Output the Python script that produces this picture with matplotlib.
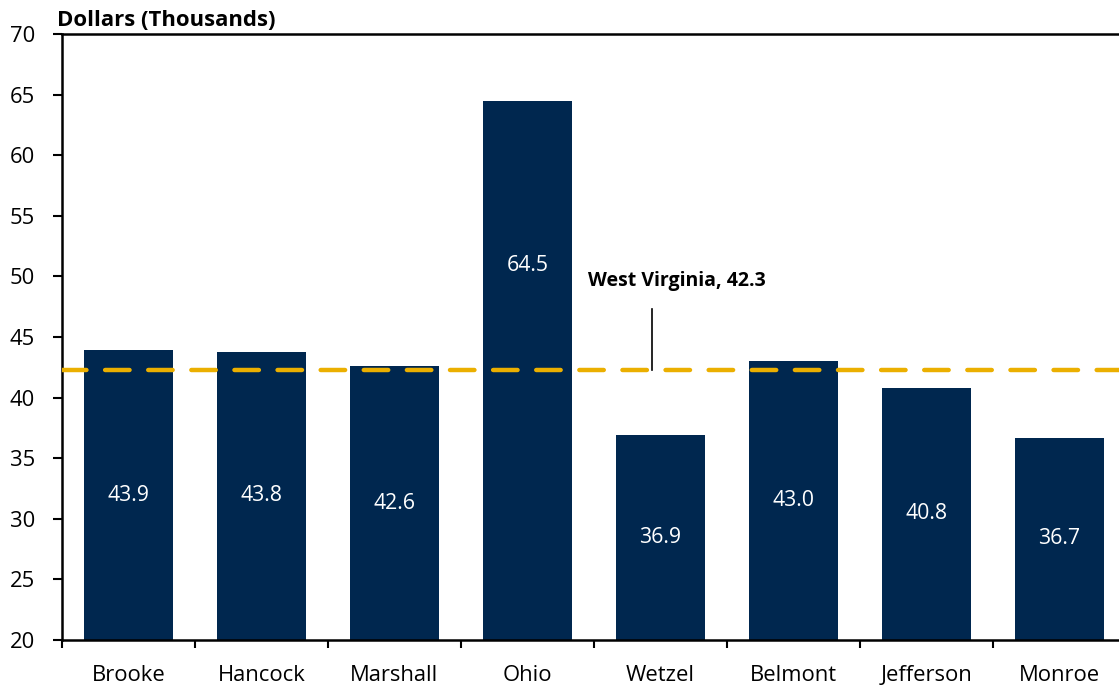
import numpy as np
import matplotlib.pyplot as plt

plt.rcParams['font.family'] = ['Open Sans', 'DejaVu Sans']

counties = ['Brooke', 'Hancock', 'Marshall', 'Ohio', 'Wetzel', 'Belmont', 'Jefferson', 'Monroe']
values = [43.9, 43.8, 42.6, 64.5, 36.9, 43.0, 40.8, 36.7]
wv_value = 42.3
wv_label = 'West Virginia, 42.3'

navy = '#00274f'
gold = '#ebaf00'

fig = plt.figure(figsize=(11.19, 6.88), dpi=100)
ax = fig.add_axes([62 / 1119, 48 / 688, 1064 / 1119, 606 / 688])

x = np.arange(len(counties))
ax.bar(x, values, width=0.67, color=navy)

# labels sit mid-bar; Ohio's is lifted above the state line
for xi, v in zip(x, values):
    ly = (20 + v) / 2
    if counties[xi] == 'Ohio':
        ly = 50.9
    ax.text(xi, ly, f'{v:.1f}', color='white', ha='center', va='center', fontsize=15.3)

ax.axhline(wv_value, color=gold, lw=3.2, ls=(0, (5.5, 4.2)), dash_capstyle='round', zorder=3)
ax.plot([3.936, 3.936], [wv_value, 47.3], color='black', lw=1.2, zorder=4)
ax.text(4.12, 49.6, wv_label, ha='center', va='center', fontsize=14, fontweight='bold')

ax.set_xlim(-0.5, len(counties) - 0.5)
ax.set_ylim(20, 70)
ax.set_yticks(np.arange(20, 71, 5))
ax.set_xticks(x)
ax.set_xticklabels(counties)
ax.set_xticks(np.arange(-0.5, len(counties), 1), minor=True)
ax.tick_params(axis='x', which='major', length=0, pad=18, labelsize=15.8)
ax.tick_params(axis='x', which='minor', length=6, width=1.5, direction='out')
ax.tick_params(axis='y', length=6.5, width=1.5, labelsize=15.8, pad=13)

for side in ['left', 'bottom', 'top']:
    ax.spines[side].set_linewidth(1.8)
ax.spines['right'].set_visible(False)

fig.text(57 / 1119, 1 - 20 / 688, 'Dollars (Thousands)', fontsize=15.9, fontweight='bold',
         ha='left', va='center')

fig.savefig('out.png', dpi=100)
